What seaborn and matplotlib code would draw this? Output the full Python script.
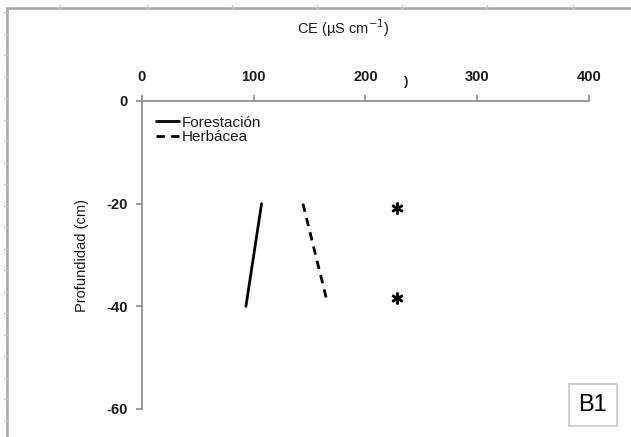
import matplotlib
matplotlib.use("Agg")
import matplotlib.pyplot as plt
import seaborn as sns
import pandas as pd
from matplotlib.lines import Line2D

# Data
forest_ce = [107, 93]
forest_depth = [-20, -40]
herb_ce = [144, 165]
herb_depth = [-20, -38.5]
star_ce = [228, 228]
star_depth = [-20.8, -38.3]
x_ticks = [0, 100, 200, 300, 400]
y_ticks = [0, -20, -40, -60]

sns.set_theme(style="white")
plt.rcParams['font.family'] = ['Liberation Sans', 'DejaVu Sans']
plt.rcParams['axes.unicode_minus'] = False

fig = plt.figure(figsize=(6.31, 4.37), dpi=100)
ax = fig.add_axes([142/631, 1-409/437, (589-142)/631, (409-101)/437])

txt = "#1a1a1a"
gray = "#8a8a8a"

df_f = pd.DataFrame({"CE": forest_ce, "Prof": forest_depth})
df_h = pd.DataFrame({"CE": herb_ce, "Prof": herb_depth})
sns.lineplot(data=df_f, x="CE", y="Prof", sort=False, color="black", lw=2,
             ax=ax, label="Forestación")
sns.lineplot(data=df_h, x="CE", y="Prof", sort=False, color="black", lw=2,
             ax=ax, label="Herbácea", linestyle=(0, (3.0, 2.3)))
ax.plot(star_ce, star_depth, linestyle="none", marker=r"$\ast$",
        markersize=8, color="black")

ax.set_xlim(0, 400)
ax.set_ylim(-60, 0)
ax.set_xticks(x_ticks)
ax.set_yticks(y_ticks)
ax.xaxis.tick_top()
ax.xaxis.set_label_position("top")
ax.set_xlabel("")
ax.set_ylabel("Profundidad (cm)", fontsize=10.5, color=txt, labelpad=13)
for s in ["bottom", "right"]:
    ax.spines[s].set_visible(False)
for s in ["left", "top"]:
    ax.spines[s].set_color(gray)
    ax.spines[s].set_linewidth(1.2)
ax.tick_params(axis="both", which="both", length=4, width=1.2, color=gray,
               labelsize=10.5, labelcolor=txt, direction="out")
ax.tick_params(axis="x", top=True, bottom=False, pad=8)
ax.tick_params(axis="y", left=True, pad=6)
for lab in ax.get_xticklabels() + ax.get_yticklabels():
    lab.set_fontweight("bold")

leg = ax.legend(loc="upper left", bbox_to_anchor=(0.018, 0.972), frameon=False,
                fontsize=11, handlelength=1.5, handletextpad=0.15,
                labelspacing=0.05, borderaxespad=0)
for t in leg.get_texts():
    t.set_color(txt)

fig.text(343/631, 1-28/437, "CE (µS cm$^{-1}$)", ha="center", va="center",
         fontsize=10.5, color=txt)
fig.text(406/631, 1-82/437, ")", ha="center", va="center", fontsize=9.5,
         color=txt, fontweight="bold")

fig.text(593/631, 1-405/437, "B1", ha="center", va="center", fontsize=17,
         color="black",
         bbox=dict(boxstyle="square,pad=0.42", fc="white", ec="#c8c8c8", lw=1.2))

# outer frame
fig.add_artist(Line2D([7/631, 1], [1-8/437, 1-8/437], transform=fig.transFigure,
                      color="#a8a8a8", lw=1.8))
fig.add_artist(Line2D([7/631, 7/631], [0, 1-8/437], transform=fig.transFigure,
                      color="#a8a8a8", lw=1.8))
for xp in [60, 147, 232, 317, 402, 487, 573]:
    fig.add_artist(Line2D([xp/631, xp/631], [1-8/437, 1-5/437],
                          transform=fig.transFigure, color="#c8c8d8", lw=1))
yp = 12
while yp < 437:
    fig.add_artist(Line2D([4/631, 7/631], [1-yp/437, 1-yp/437],
                          transform=fig.transFigure, color="#c8c8d8", lw=1))
    yp += 21.5

fig.savefig("out.png", dpi=100)
